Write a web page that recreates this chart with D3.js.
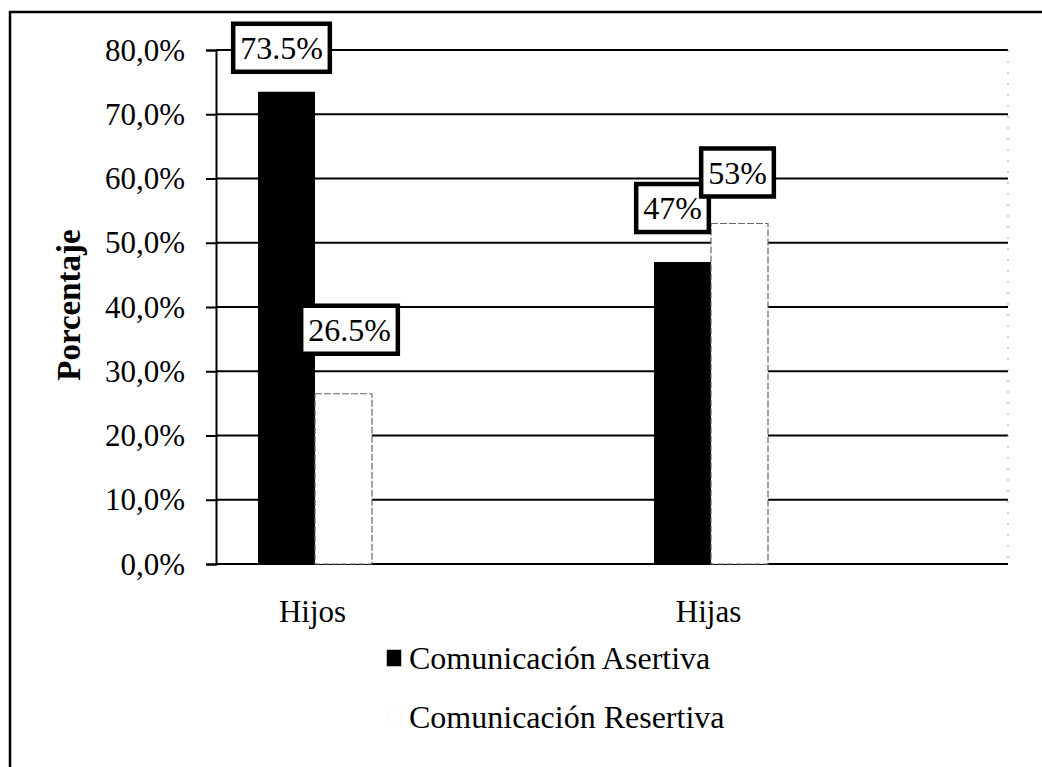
<!DOCTYPE html>
<html>
<head>
<meta charset="utf-8">
<script src="https://cdn.jsdelivr.net/npm/d3@7"></script>
<style>
  body { margin: 0; background: #fff; }
  svg text { font-family: "Liberation Serif", "Times New Roman", serif; fill: #000; }
</style>
</head>
<body>
<div id="chart"></div>
<script>
// data
var categories = ["Hijos", "Hijas"];
var seriesNames = ["Comunicación Asertiva", "Comunicación Resertiva"];
var asertiva = [73.5, 47];
var resertiva = [26.5, 53];
var labelText = [["73.5%", "47%"], ["26.5%", "53%"]];
var yTicks = [0, 10, 20, 30, 40, 50, 60, 70, 80];

// hand placed label boxes (dx, dy from bar top centre), like the original
var labelNudge = [[[-5, -44], [-10, -54]], [[6, -64], [-2, -51]]];

var W = 1042, H = 767;
var plot = {left: 216, right: 1008, top: 50, bottom: 564};

var svg = d3.select("#chart").append("svg").attr("width", W).attr("height", H);

// outer frame (right and bottom edges are off the picture)
svg.append("rect").attr("x", 10).attr("y", 12).attr("width", 1100).attr("height", 800)
    .attr("fill", "none").attr("stroke", "#000").attr("stroke-width", 2.5);

var x = d3.scalePoint().domain(categories).range([plot.left, plot.right]).padding(0.5).align(0.25);
var xs = d3.scaleBand().domain(seriesNames).range([-57, 57]).padding(0);
var y = d3.scaleLinear().domain([0, 80]).range([plot.bottom, plot.top]);

var fmt = function(d) { return d.toFixed(1).replace(".", ",") + "%"; };

// gridlines
svg.append("g").selectAll("line").data(yTicks).enter().append("line")
    .attr("x1", plot.left).attr("x2", plot.right)
    .attr("y1", function(d) { return y(d); }).attr("y2", function(d) { return y(d); })
    .attr("stroke", "#000").attr("stroke-width", 2);

// faint right edge
svg.append("line").attr("x1", plot.right).attr("x2", plot.right).attr("y1", plot.top).attr("y2", plot.bottom)
    .attr("stroke", "#999").attr("stroke-width", 1).attr("stroke-dasharray", "2,9");

// y axis
var yAxis = svg.append("g").attr("transform", "translate(" + plot.left + ",0)")
    .call(d3.axisLeft(y).tickValues(yTicks).tickFormat(fmt).tickSize(10).tickPadding(21));
yAxis.select(".domain").attr("stroke", "#000").attr("stroke-width", 2);
yAxis.selectAll(".tick line").attr("stroke", "#000").attr("stroke-width", 2);
yAxis.selectAll(".tick text").attr("font-size", 31).attr("dy", "0.33em");

svg.append("text").attr("transform", "translate(80,305) rotate(-90)")
    .attr("text-anchor", "middle").attr("font-size", 33).attr("font-weight", "bold").text("Porcentaje");

// x axis labels
var xAxis = svg.append("g").attr("transform", "translate(-3," + plot.bottom + ")")
    .call(d3.axisBottom(x).tickSize(0).tickPadding(36));
xAxis.select(".domain").remove();
xAxis.selectAll(".tick text").attr("font-size", 31);

// bars
var series = [asertiva, resertiva];
var fills = ["#000", "#fff"];
series.forEach(function(vals, s) {
    svg.append("g").selectAll("rect").data(vals).enter().append("rect")
        .attr("x", function(d, i) { return x(categories[i]) + xs(seriesNames[s]); })
        .attr("y", function(d) { return y(d); })
        .attr("width", xs.bandwidth())
        .attr("height", function(d) { return y(0) - y(d); })
        .attr("fill", fills[s])
        .attr("stroke", s === 0 ? "#000" : "#666")
        .attr("stroke-width", s === 0 ? 0 : 1.2)
        .attr("stroke-dasharray", s === 0 ? null : "7,2");
});

// value labels in boxes
series.forEach(function(vals, s) {
    vals.forEach(function(d, i) {
        var cx = x(categories[i]) + xs(seriesNames[s]) + xs.bandwidth() / 2 + labelNudge[s][i][0];
        var cy = y(d) + labelNudge[s][i][1];
        var g = svg.append("g").attr("transform", "translate(" + cx + "," + cy + ")");
        var t = g.append("text").attr("text-anchor", "middle").attr("dy", "0.35em")
            .attr("font-size", 32).text(labelText[s][i]);
        var bb = t.node().getBBox();
        g.insert("rect", "text").attr("x", bb.x - 7).attr("y", -24).attr("width", bb.width + 14).attr("height", 48)
            .attr("fill", "#fff").attr("stroke", "#000").attr("stroke-width", 4.5);
    });
});

// legend
var legend = svg.append("g").attr("transform", "translate(387,0)");
var legY = [658, 717];
seriesNames.forEach(function(name, s) {
    legend.append("rect").attr("x", 0).attr("y", legY[s] - 8).attr("width", 14).attr("height", 16)
        .attr("fill", fills[s]).attr("stroke", s === 0 ? "#000" : "#eee").attr("stroke-width", 0.5);
    legend.append("text").attr("x", 22).attr("y", legY[s]).attr("dy", "0.35em")
        .attr("font-size", 32).text(name);
});
</script>
</body>
</html>
